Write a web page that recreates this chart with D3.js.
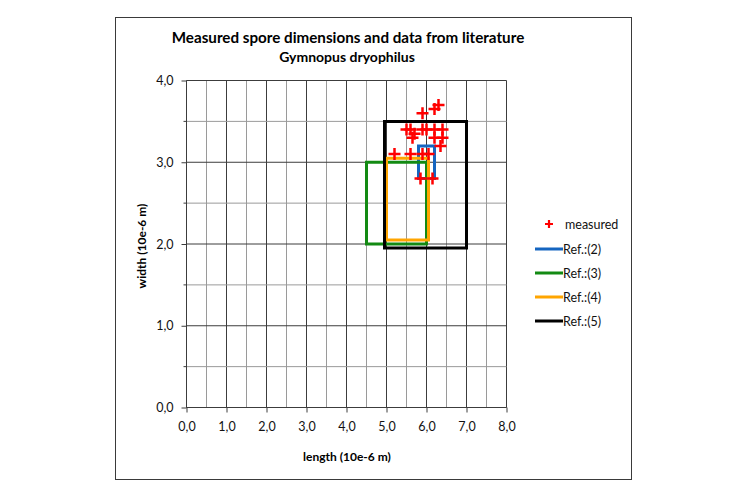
<!DOCTYPE html>
<html><head><meta charset="utf-8">
<script src="https://cdn.jsdelivr.net/npm/d3@7"></script>
<style>body{margin:0;background:#fff}svg{display:block}</style>
</head><body>
<svg id="c" width="748" height="498"></svg>
<script>
// ---- data ----
const measuredLength = [6.3, 5.9, 6.2, 5.5, 5.6, 5.9, 6.0, 6.2, 6.4, 5.65, 6.2, 6.4, 6.35, 5.2, 5.6, 5.9, 6.05, 5.85, 6.15, 5.7];
const measuredWidth  = [3.7, 3.6, 3.65, 3.4, 3.4, 3.4, 3.4, 3.4, 3.4, 3.3, 3.3, 3.3, 3.2, 3.1, 3.1, 3.1, 3.1, 2.8, 2.8, 3.35];
const refNames     = ["Ref.:(2)", "Ref.:(3)", "Ref.:(4)", "Ref.:(5)"];
const refLengthMin = [5.8, 4.5, 5.0, 4.95];
const refLengthMax = [6.2, 6.0, 6.05, 7.0];
const refWidthMin  = [2.8, 2.0, 2.05, 1.95];
const refWidthMax  = [3.2, 3.0, 3.05, 3.5];
const xTickValues = [0, 1, 2, 3, 4, 5, 6, 7, 8];
const xTickLabels = ["0,0", "1,0", "2,0", "3,0", "4,0", "5,0", "6,0", "7,0", "8,0"];
const yTickValues = [0, 1, 2, 3, 4];
const yTickLabels = ["0,0", "1,0", "2,0", "3,0", "4,0"];
const titleText = "Measured spore dimensions and data from literature";
const subtitleText = "Gymnopus dryophilus";
const xTitle = "length (10e-6 m)";
const yTitle = "width (10e-6 m)";
const measuredName = "measured";

// ---- styles ----
const refColors = ["#1565c0", "#138a13", "#ffa500", "#000000"];
const FONT = "Lato, 'Open Sans', sans-serif";

const svg = d3.select("#c");
svg.append("rect").attr("x", 115.5).attr("y", 17.5).attr("width", 516).attr("height", 462)
  .attr("fill", "#fff").attr("stroke", "#3a3a3a").attr("stroke-width", 1);

const x = d3.scaleLinear().domain([0, 8]).range([186.5, 506.5]);
const y = d3.scaleLinear().domain([0, 4]).range([407.5, 80.5]);

// grid
const g = svg.append("g");
const halfX = d3.range(0, 8.01, 0.5), halfY = d3.range(0, 4.01, 0.5);
halfX.forEach(v => {
  const major = Math.abs(v - Math.round(v)) < 1e-6;
  g.append("line").attr("x1", x(v)).attr("x2", x(v)).attr("y1", y(0)).attr("y2", y(4))
    .attr("stroke", major ? "#3c3c3c" : "#9a9a9a").attr("stroke-width", 1);
});
halfY.forEach(v => {
  const major = Math.abs(v - Math.round(v)) < 1e-6;
  g.append("line").attr("x1", x(0)).attr("x2", x(8)).attr("y1", y(v)).attr("y2", y(v))
    .attr("stroke", major ? "#3c3c3c" : "#9a9a9a").attr("stroke-width", 1);
});

// axes
const xAxis = d3.axisBottom(x).tickValues(xTickValues).tickFormat((d, i) => xTickLabels[i]).tickSize(5).tickPadding(10);
const yAxis = d3.axisLeft(y).tickValues(yTickValues).tickFormat((d, i) => yTickLabels[i]).tickSize(5).tickPadding(8);
const gx = svg.append("g").attr("transform", `translate(0,${y(0)})`).call(xAxis);
const gy = svg.append("g").attr("transform", `translate(${x(0)},0)`).call(yAxis);
[gx, gy].forEach(a => {
  a.select(".domain").attr("stroke", "#3c3c3c");
  a.selectAll(".tick line").attr("stroke", "#3c3c3c");
  a.selectAll("text").attr("font-family", FONT).attr("font-size", 12.5).attr("fill", "#111");
});
gx.select(".domain").attr("d", `M${x(0)},0H${x(8)}`);
gy.select(".domain").attr("d", `M0,${y(0)}V${y(4)}`);
// minor y ticks
gy.selectAll(".minor").data(d3.range(0.5, 4, 1)).enter().append("line")
  .attr("x1", -3).attr("x2", 0).attr("y1", d => y(d)).attr("y2", d => y(d)).attr("stroke", "#3c3c3c");

// titles
svg.append("text").attr("x", 348).attr("y", 43).attr("text-anchor", "middle")
  .attr("font-family", FONT).attr("font-weight", "bold").attr("font-size", 15.2).attr("fill", "#000").text(titleText);
svg.append("text").attr("x", 347).attr("y", 62).attr("text-anchor", "middle")
  .attr("font-family", FONT).attr("font-weight", "bold").attr("font-size", 14).attr("fill", "#000").text(subtitleText);
svg.append("text").attr("x", 347).attr("y", 461).attr("text-anchor", "middle")
  .attr("font-family", FONT).attr("font-weight", "bold").attr("font-size", 12).attr("fill", "#000").text(xTitle);
svg.append("text").attr("transform", `translate(146,246) rotate(-90)`).attr("text-anchor", "middle")
  .attr("font-family", FONT).attr("font-weight", "bold").attr("font-size", 12).attr("fill", "#000").text(yTitle);

// reference rectangles
const line = d3.line().x(d => x(d[0])).y(d => y(d[1]));
refNames.forEach((n, i) => {
  const pts = [[refLengthMin[i], refWidthMax[i]], [refLengthMax[i], refWidthMax[i]], [refLengthMax[i], refWidthMin[i]],
               [refLengthMin[i], refWidthMin[i]], [refLengthMin[i], refWidthMax[i]]];
  svg.append("path").attr("d", line(pts) + "Z").attr("fill", "none").attr("stroke", refColors[i])
    .attr("stroke-width", 3).attr("stroke-linejoin", "miter");
});

// measured markers
const crossPath = "M-6,0H6M0,-6V6";
svg.append("g").selectAll("path").data(measuredLength.map((v, i) => [v, measuredWidth[i]])).enter()
  .append("path").attr("d", crossPath).attr("transform", d => `translate(${x(d[0])},${y(d[1])})`)
  .attr("stroke", "#ff0000").attr("stroke-width", 2.5).attr("fill", "none");

// legend
const lg = svg.append("g").attr("font-family", FONT).attr("font-size", 12.5);
lg.append("path").attr("d", "M-4,0H4M0,-4V4").attr("transform", "translate(549,224)")
  .attr("stroke", "#ff0000").attr("stroke-width", 2.2);
lg.append("text").attr("x", 565).attr("y", 228.5).text(measuredName).attr("fill", "#111");
const legY = [249, 273, 297, 321];
refNames.forEach((n, i) => {
  lg.append("line").attr("x1", 535).attr("x2", 563).attr("y1", legY[i]).attr("y2", legY[i])
    .attr("stroke", refColors[i]).attr("stroke-width", 3);
  lg.append("text").attr("x", 563).attr("y", legY[i] + 4.5).text(n).attr("fill", "#111");
});
</script>
</body></html>
